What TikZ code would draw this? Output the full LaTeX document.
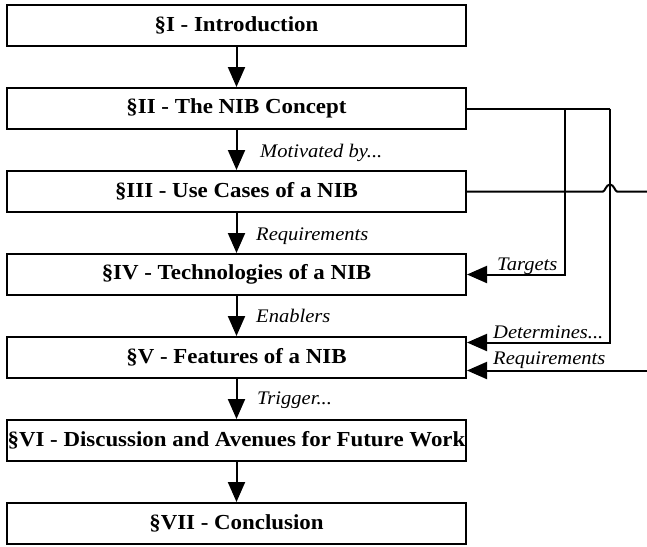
\documentclass[tikz,border=0pt]{standalone}
\usepackage{fontspec}
\setmainfont[FakeStretch=1.07]{Liberation Serif}
\usetikzlibrary{arrows.meta,calc}
\begin{document}
\begin{tikzpicture}[x=1pt,y=-1pt,
 sect/.style={draw, line width=2pt, minimum width=459pt, minimum height=41pt, inner sep=0pt, font=\fontsize{21.4}{25}\selectfont\bfseries},
 conn/.style={line width=2pt, -{Triangle[length=20pt,width=17pt]}},
 lbl/.style={anchor=base west, inner sep=0pt, font=\fontsize{19.2}{23}\selectfont\itshape},
 wire/.style={line width=2pt}]
\useasboundingbox (0,0) rectangle (647,546);
\node[sect] (s1) at (236.5,25.5) {§I - Introduction};
\node[sect] (s2) at (236.5,108.5) {§II - The NIB Concept};
\node[sect] (s3) at (236.5,191.5) {§III - Use Cases of a NIB};
\node[sect] (s4) at (236.5,274.5) {§IV - Technologies of a NIB};
\node[sect] (s5) at (236.5,357.5) {§V - Features of a NIB};
\node[sect] (s6) at (236.5,440.5) {§VI - Discussion and Avenues for Future Work};
\node[sect] (s7) at (236.5,523.5) {§VII - Conclusion};
\draw[conn] (s1.south) -- (s2.north);
\draw[conn] (s2.south) -- (s3.north);
\draw[conn] (s3.south) -- (s4.north);
\draw[conn] (s4.south) -- (s5.north);
\draw[conn] (s5.south) -- (s6.north);
\draw[conn] (s6.south) -- (s7.north);
\node[lbl] (l1) at (260,157) {Motivated by...};
\node[lbl] (l2) at (256,240) {Requirements};
\node[lbl] (l3) at (256,322) {Enablers};
\node[lbl] (l4) at (257,404) {Trigger...};
% right side
\coordinate (ta) at (565,108.5);
\coordinate (tb) at (610,108.5);
\coordinate (d5) at ($(s5.east)+(0,-15)$);
\coordinate (r5) at ($(s5.east)+(0,13)$);
\coordinate (rin) at (647,370.5);
\coordinate (hopa) at (603,191.5);
\coordinate (hopb) at (617,191.5);
\coordinate (uout) at (647,191.5);
\draw[wire] (s2.east) -- (tb);
\draw[conn] (ta) -- (ta |- s4.east) -- (s4.east);
\draw[conn] (tb) -- (tb |- d5) -- (d5);
\draw[conn] (rin) -- (r5);
\draw[wire] (s3.east) -- (hopa) .. controls (605,191.5) and (606,184.5) .. (610,184.5) .. controls (614,184.5) and (615,191.5) .. (hopb) -- (uout);
\node[lbl] (lt) at (497,270) {Targets};
\node[lbl] (ld) at (493,338) {Determines...};
\node[lbl] (lr) at (493,364) {Requirements};
\end{tikzpicture}
\end{document}
